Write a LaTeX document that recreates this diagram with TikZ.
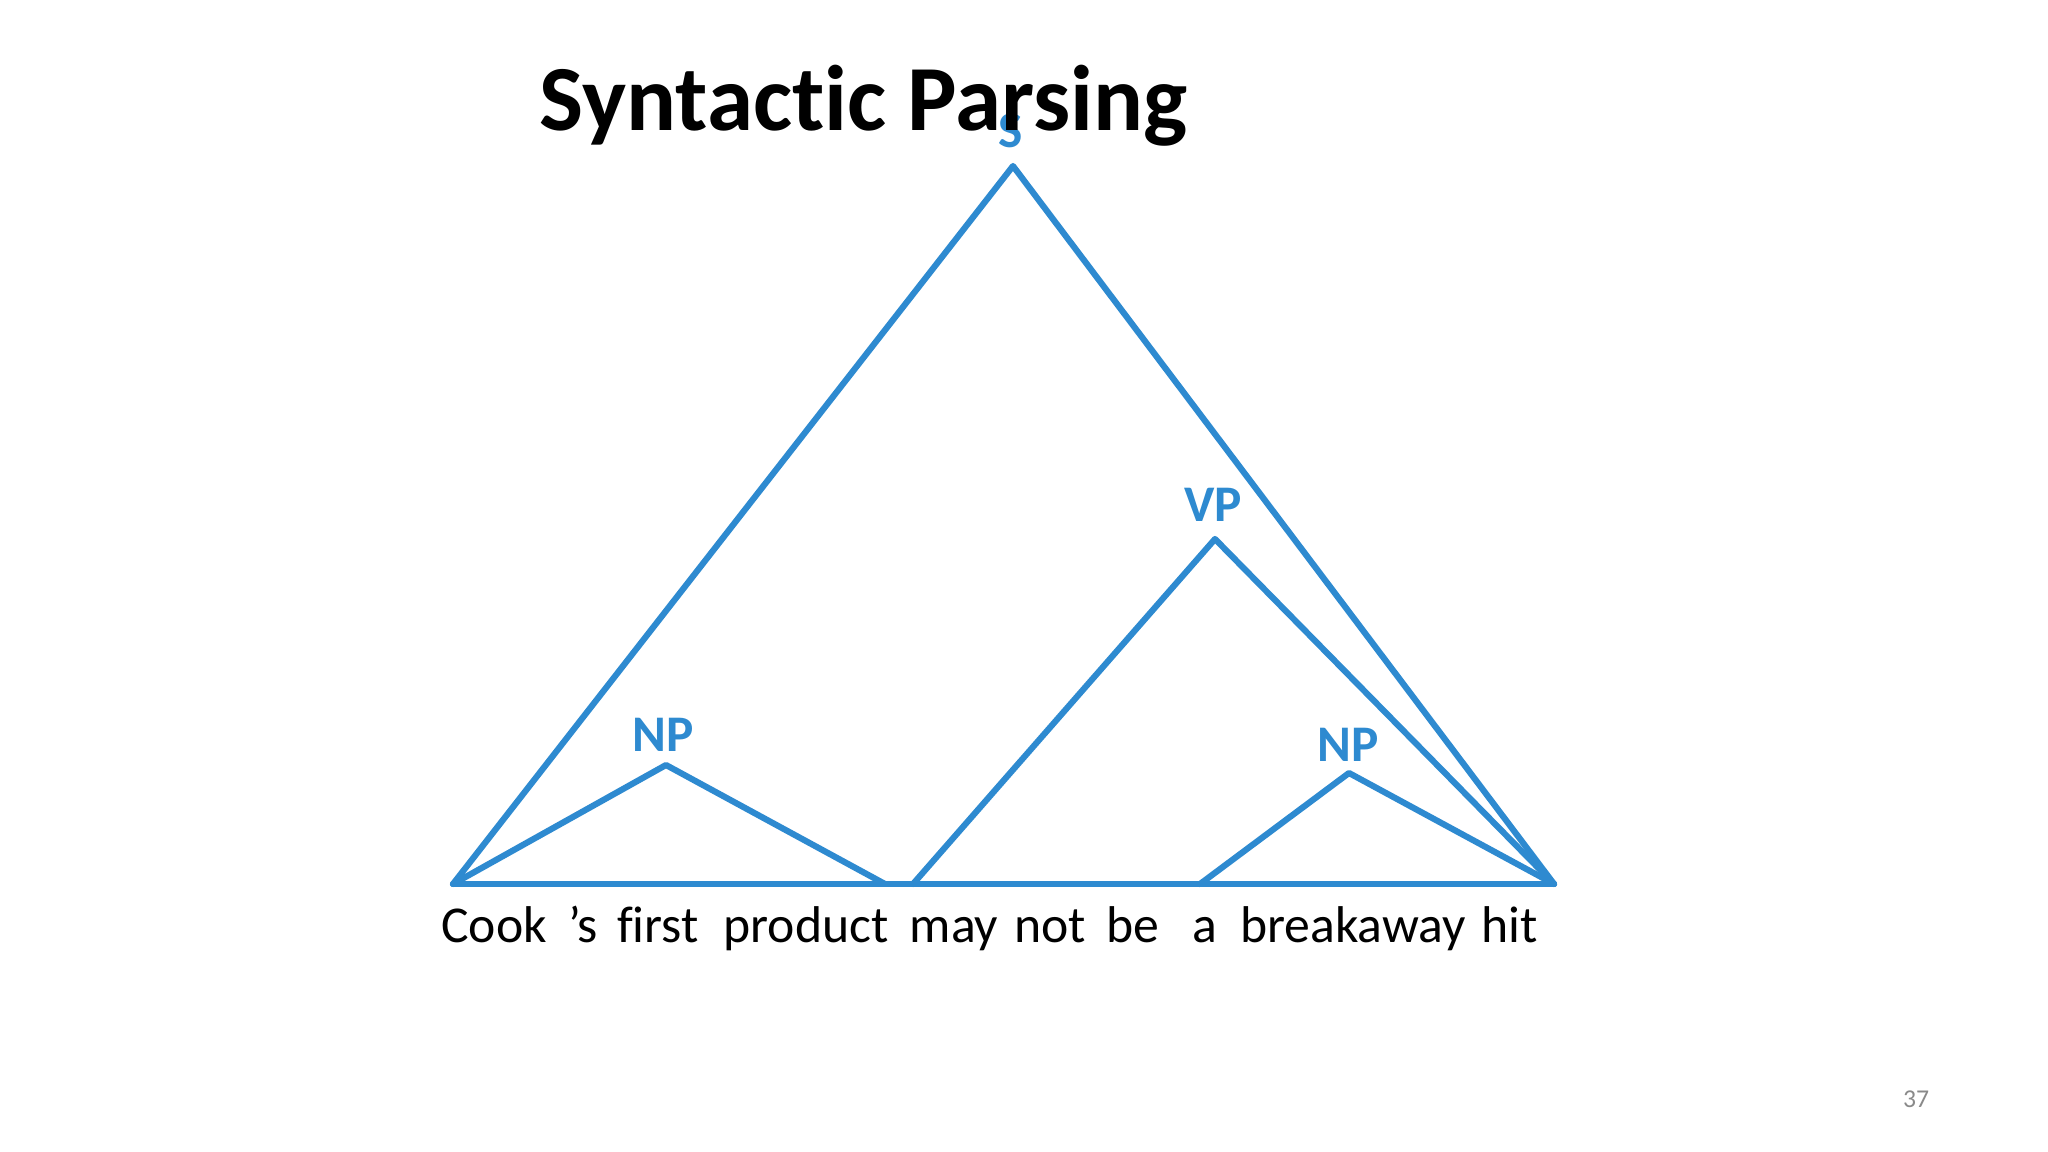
\documentclass[tikz,border=0pt]{standalone}
\usepackage{fontspec}
\setmainfont{Carlito}[Ligatures={NoCommon,NoRare,NoContextual}]
\definecolor{treeblue}{HTML}{2E8AD0}
\definecolor{pagegray}{HTML}{8A8A8A}
\tikzset{
  branch/.style={draw=treeblue, line width=1.75pt, line join=round, line cap=round},
  cat/.style={anchor=base, text=treeblue, inner sep=0pt, font=\fontsize{14.6}{17}\selectfont\bfseries},
  titletext/.style={anchor=base west, inner sep=0pt, font=\fontsize{26.5}{32}\selectfont\bfseries},
  wordtext/.style={anchor=base, inner sep=0pt, font=\fontsize{14.7}{17}\selectfont},
  pagenum/.style={anchor=base, inner sep=0pt, text=pagegray, font=\fontsize{7.3}{9}\selectfont}
}
\begin{document}
\begin{tikzpicture}[x=0.01cm,y=-0.01cm]
\useasboundingbox[fill=white] (0,0) rectangle (2048,1152);
% tree points
\coordinate (Stop) at (1013,166);
\coordinate (BL) at (453,884);
\coordinate (BR) at (1554,884);
\coordinate (NPa) at (666,765);
\coordinate (NPaR) at (885,884);
\coordinate (VPL) at (913,884);
\coordinate (VPtop) at (1215,539);
\coordinate (NPbL) at (1200,884);
\coordinate (NPbtop) at (1349,773);
% labels
\node[cat] (Slab) at (1011,148) {S};
\node[cat] (VPlab) at (1213,522) {VP};
\node[cat] (NPalab) at (663,751) {NP};
\node[cat] (NPblab) at (1348,761) {NP};
% title (drawn over the S label)
\node[titletext] (title) at (539,131) {Syntactic Parsing};
% branches
\draw[branch] (BL) -- (BR);
\draw[branch] (BL) -- (Stop) -- (BR);
\draw[branch] (BL) -- (NPa) -- (NPaR);
\draw[branch] (VPL) -- (VPtop) -- (BR);
\draw[branch] (NPbL) -- (NPbtop) -- (BR);
% sentence words (centred on the reference word positions)
\node[wordtext] (w1) at (494,942) {Cook};
\node[wordtext] (w2) at (583,942) {’s};
\node[wordtext] (w3) at (658,942) {first};
\node[wordtext] (w4) at (806,942) {product};
\node[wordtext] (w5) at (954,942) {may};
\node[wordtext] (w6) at (1050,942) {not};
\node[wordtext] (w7) at (1133,942) {be};
\node[wordtext] (w8) at (1205,942) {a};
\node[wordtext] (w9) at (1353,942) {breakaway};
\node[wordtext] (w10) at (1510,942) {hit};
% page number
\node[pagenum] (page) at (1916,1107) {37};
\end{tikzpicture}
\end{document}
